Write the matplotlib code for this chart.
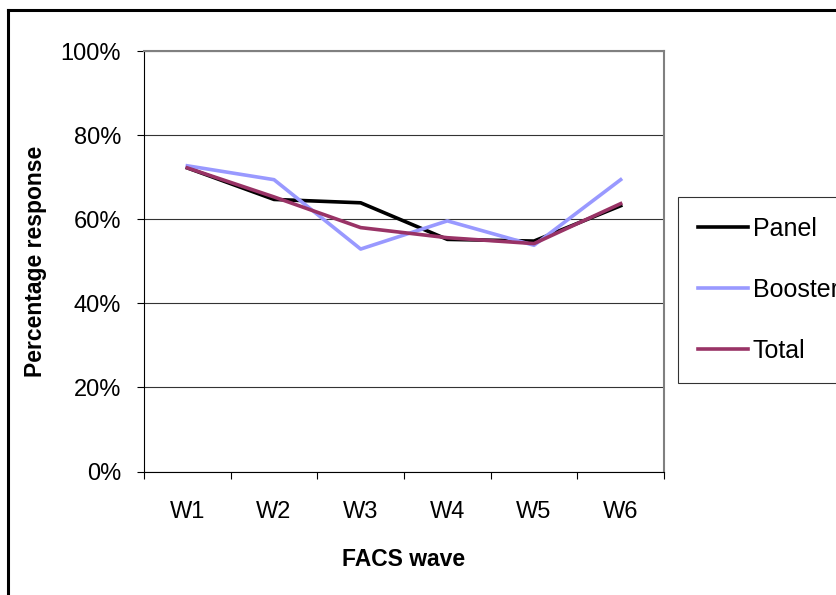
import matplotlib

matplotlib.use("Agg")
import matplotlib.pyplot as plt
from matplotlib.lines import Line2D
from matplotlib.ticker import FixedLocator, PercentFormatter

plt.rcParams["font.family"] = ["Liberation Sans", "DejaVu Sans"]

# FACS wave response rates (%)
waves = ["W1", "W2", "W3", "W4", "W5", "W6"]
panel = [72.2, 64.7, 63.9, 55.2, 54.8, 63.2]
booster = [72.7, 69.4, 52.9, 59.6, 53.8, 69.4]
total = [72.2, 65.3, 58.0, 55.6, 54.2, 63.7]

W, H = 837, 595
fig = plt.figure(figsize=(W / 100, H / 100), dpi=100)
ax = fig.add_axes([144 / W, 1 - 471.5 / H, 520 / W, 420.5 / H])

x = range(len(waves))
ax.plot(x, panel, color="black", lw=2.6, label="Panel")
ax.plot(x, booster, color="#9999FF", lw=2.6, label="Booster")
ax.plot(x, total, color="#993366", lw=2.6, label="Total")

ax.set_xlim(-0.5, len(waves) - 0.5)
ax.set_ylim(0, 100)
ax.set_yticks(range(0, 101, 20))
ax.yaxis.set_major_formatter(PercentFormatter(decimals=0))
ax.grid(axis="y", color="#333333", lw=0.8)
ax.set_axisbelow(True)

ax.set_xticks(list(x))
ax.set_xticklabels(waves)
ax.xaxis.set_minor_locator(FixedLocator([i - 0.5 for i in range(len(waves) + 1)]))
ax.tick_params(axis="x", which="major", length=0, pad=21, labelsize=17)
ax.tick_params(axis="x", which="minor", length=5, width=0.8, direction="out")
ax.tick_params(axis="y", length=5, width=0.8, pad=11.5, labelsize=17)

for side in ("top", "right"):
    ax.spines[side].set_color("#808080")
    ax.spines[side].set_linewidth(1.5)
for side in ("left", "bottom"):
    ax.spines[side].set_color("black")
    ax.spines[side].set_linewidth(0.8)

ax.set_xlabel("FACS wave", fontsize=16.5, fontweight="bold", labelpad=18)
ax.set_ylabel("Percentage response", fontsize=16.5, fontweight="bold", labelpad=10)

leg = ax.legend(loc="upper left", bbox_to_anchor=(678 / W, 1 - 197 / H),
                bbox_transform=fig.transFigure, fontsize=18, frameon=True,
                fancybox=False, edgecolor="black", handlelength=2.0,
                handletextpad=0.2, labelspacing=1.48, borderpad=0.8,
                borderaxespad=0)
leg.get_frame().set_linewidth(0.8)

# chart-area border (only the left and top edges fall inside the picture)
fig.add_artist(Line2D([8.5 / W, 8.5 / W], [0, 1 - 9.5 / H], color="black", lw=2.2,
                      transform=fig.transFigure))
fig.add_artist(Line2D([8.5 / W, 1], [1 - 9.5 / H, 1 - 9.5 / H], color="black", lw=2.2,
                      transform=fig.transFigure))

fig.savefig("out.png", dpi=100)
